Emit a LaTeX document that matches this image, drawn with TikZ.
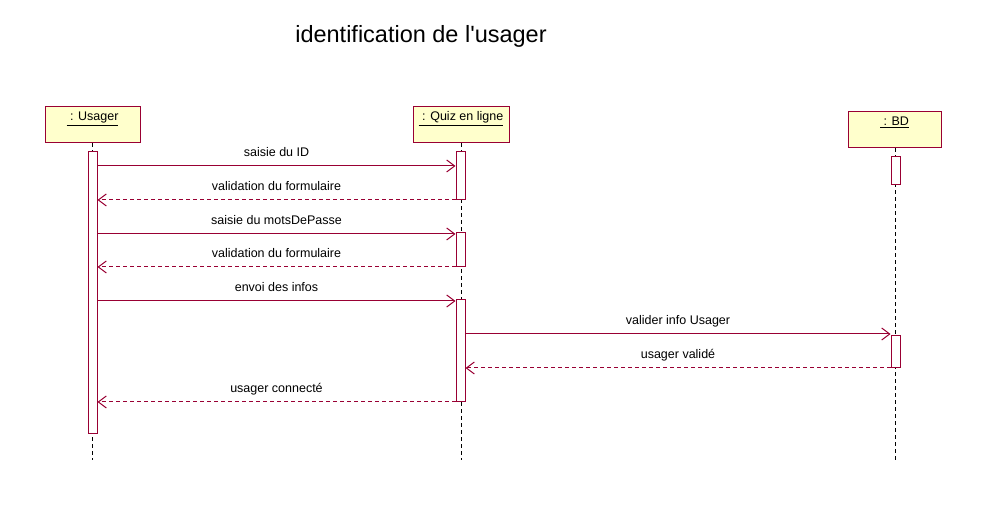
\documentclass[tikz,border=0pt]{standalone}
\usepackage{fontspec}
\setmainfont{Liberation Sans}
\newfontfamily\titlefont{Liberation Sans}
\usetikzlibrary{arrows.meta}
\definecolor{umlline}{RGB}{153,0,51}
\definecolor{umlfill}{RGB}{255,255,204}

\begin{document}
\begin{tikzpicture}[x=1pt,y=-1pt,
    obj/.style={draw=umlline,fill=umlfill,line width=1pt,inner xsep=0pt,inner ysep=4pt,
      text height=10pt,text depth=18pt,font=\fontsize{12.5}{14}\selectfont},
    act/.style={draw=umlline,fill=white,line width=1pt,minimum width=9pt,inner sep=0pt,anchor=north},
    life/.style={line width=1pt,dash pattern=on 4pt off 3pt},
    msg/.style={draw=umlline,line width=1pt,-{Straight Barb[length=8pt,width=12pt]}},
    rep/.style={msg,dash pattern=on 4pt off 3pt},
    lbl/.style={midway,anchor=base,yshift=9.5pt,inner sep=0pt,font=\fontsize{12.5}{14}\selectfont}]
  \useasboundingbox (0,0) rectangle (989,518);

  \node (title) at (421,36) {\titlefont\fontsize{23.5}{26}\selectfont identification de l'usager};

  % objets
  \node[obj,minimum width=95pt] (usager) at (92.5,125) {\underline{~: Usager}};
  \node[obj,minimum width=96pt] (quiz) at (461,125) {\underline{~: Quiz en ligne}};
  \node[obj,minimum width=93pt] (bd) at (894.5,130) {\underline{~: BD}};

  % lignes de vie
  \coordinate (usagerend) at (92.5,460);
  \coordinate (quizend) at (461,460);
  \coordinate (bdend) at (895.5,462);
  \draw[life] (usager.south) -- (usagerend);
  \draw[life] (quiz.south) -- (quizend);
  \draw[life] (bd.south -| bdend) -- (bdend);

  % activations
  \node[act,minimum height=282pt] (ua) at (92.5,151) {};
  \node[act,minimum height=48pt] (q1) at (460.5,151) {};
  \node[act,minimum height=34pt] (q2) at (460.5,232) {};
  \node[act,minimum height=102pt] (q3) at (460.5,299) {};
  \node[act,minimum height=28pt] (b1) at (895.5,156) {};
  \node[act,minimum height=32pt] (b2) at (895.5,335) {};

  % messages
  \begin{scope}
    \draw[msg] (ua.east |- 0,166) to node[lbl] {saisie du ID} (q1.west |- 0,166);
    \draw[rep] (q1.west |- 0,200) to node[lbl] {validation du formulaire} (ua.east |- 0,200);
    \draw[msg] (ua.east |- 0,234) to node[lbl] {saisie du motsDePasse} (q2.west |- 0,234);
    \draw[rep] (q2.west |- 0,267) to node[lbl] {validation du formulaire} (ua.east |- 0,267);
    \draw[msg] (ua.east |- 0,301) to node[lbl] {envoi des infos} (q3.west |- 0,301);
    \draw[msg] (q3.east |- 0,334) to node[lbl] {valider info Usager} (b2.west |- 0,334);
    \draw[rep] (b2.west |- 0,368) to node[lbl] {usager validé} (q3.east |- 0,368);
    \draw[rep] (q3.west |- 0,402) to node[lbl] {usager connecté} (ua.east |- 0,402);
  \end{scope}
\end{tikzpicture}
\end{document}
